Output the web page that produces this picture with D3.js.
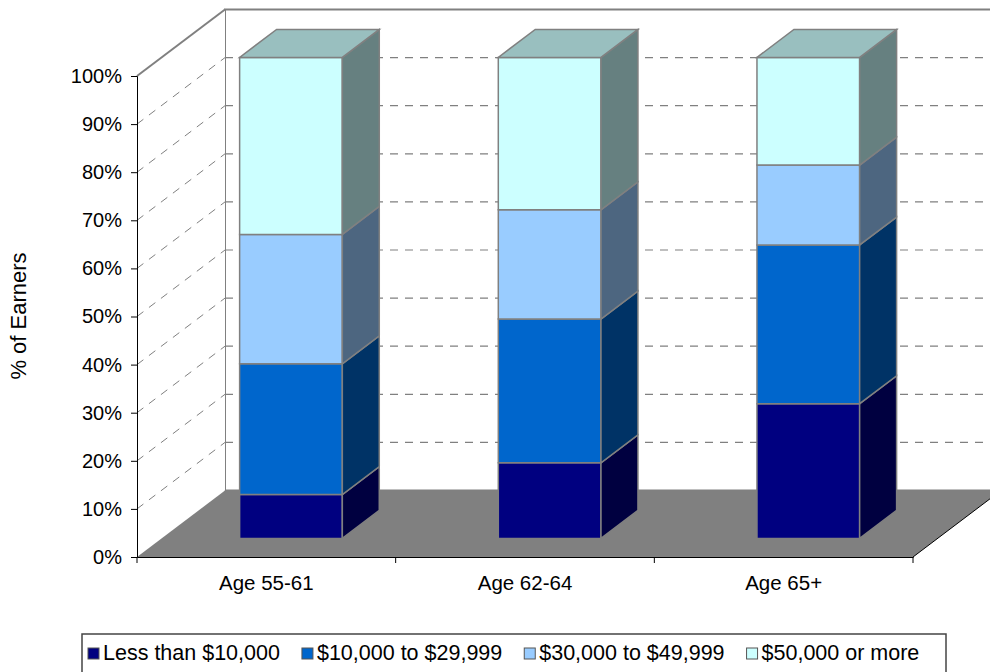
<html>
<head>
<script src="https://cdn.jsdelivr.net/npm/d3@7/dist/d3.min.js" charset="utf-8"></script>
<style>
body {
	margin:0;
	background:#ffffff;
	font-family:"Liberation Sans", Arial, sans-serif;
}
svg text {
	fill:#000000;
	font-family:"Liberation Sans", Arial, sans-serif;
}
</style>
</head>
<body>
<svg width="990" height="672" id="viz"></svg>
<script>
// categories + series (percent of earners)
var categories = ["Age 55-61", "Age 62-64", "Age 65+"];
var seriesNames = ["Less than $10,000", "$10,000 to $29,999", "$30,000 to $49,999", "$50,000 or more"];
var under10k = [9.1, 15.7, 28.0];
var from10to30k = [27.2, 29.9, 33.0];
var from30to50k = [26.9, 22.7, 16.6];
var over50k = [36.8, 31.7, 22.4];
var yTicks = [0, 10, 20, 30, 40, 50, 60, 70, 80, 90, 100];

var frontColors = ["#000080", "#0066cc", "#99ccff", "#ccffff"];
var sideColors = ["#000040", "#003366", "#4d6680", "#668080"];
var topColors = ["#000060", "#004d99", "#7399bf", "#99bfbf"];

var seriesValues = [under10k, from10to30k, from30to50k, over50k];
var table = categories.map(function (c, i) {
	var row = {cat: c};
	seriesNames.forEach(function (s, j) { row[s] = seriesValues[j][i]; });
	return row;
});
var stacked = d3.stack().keys(seriesNames)(table);

var svg = d3.select("#viz");

// front plane scales, depth offset for the 3d look
var xScale = d3.scaleBand().domain(categories).range([137, 913]);
var yScale = d3.scaleLinear().domain([0, 100]).range([557, 76]);
var DX = 88, DY = -66.5;
var d0 = 0.28, d1 = 0.70;
var barW = xScale.bandwidth() * 0.397;

function pt(x, v, d) { return [x + d * DX, yScale(v) + d * DY]; }
function poly(pts) { return pts.map(function (p) { return p[0] + "," + p[1]; }).join(" "); }

var xL = xScale.range()[0], xR = xScale.range()[1];

// back wall
svg.append("polygon")
	.attr("points", poly([pt(xL, 0, 1), pt(xL, 100, 1), pt(xR, 100, 1), pt(xR, 0, 1)]))
	.attr("fill", "#ffffff").attr("stroke", "#808080").attr("stroke-width", 2);
// left wall
svg.append("polygon")
	.attr("points", poly([pt(xL, 0, 0), pt(xL, 100, 0), pt(xL, 100, 1), pt(xL, 0, 1)]))
	.attr("fill", "#ffffff").attr("stroke", "none");
svg.append("line")
	.attr("x1", pt(xL, 100, 0)[0]).attr("y1", pt(xL, 100, 0)[1])
	.attr("x2", pt(xL, 100, 1)[0]).attr("y2", pt(xL, 100, 1)[1])
	.attr("stroke", "#808080").attr("stroke-width", 2);

// gridlines on back wall + left wall
var gridVals = yTicks.filter(function (v) { return v > 0 && v < 100; });
svg.selectAll(".gridBack").data(gridVals).enter().append("line")
	.attr("class", "gridBack")
	.attr("x1", function (v) { return pt(xL, v, 1)[0]; })
	.attr("y1", function (v) { return pt(xL, v, 1)[1]; })
	.attr("x2", function (v) { return pt(xR, v, 1)[0]; })
	.attr("y2", function (v) { return pt(xR, v, 1)[1]; })
	.attr("stroke", "#808080").attr("stroke-width", 1.2).attr("stroke-dasharray", "8,7");
svg.selectAll(".gridSide").data(gridVals).enter().append("line")
	.attr("class", "gridSide")
	.attr("x1", function (v) { return pt(xL, v, 0)[0]; })
	.attr("y1", function (v) { return pt(xL, v, 0)[1]; })
	.attr("x2", function (v) { return pt(xL, v, 1)[0]; })
	.attr("y2", function (v) { return pt(xL, v, 1)[1]; })
	.attr("stroke", "#808080").attr("stroke-width", 1).attr("stroke-dasharray", "8,7");

// floor
svg.append("polygon")
	.attr("points", poly([pt(xL, 0, 0), pt(xR, 0, 0), pt(xR, 0, 1), pt(xL, 0, 1)]))
	.attr("fill", "#808080");
svg.append("line")
	.attr("x1", pt(xR, 0, 0)[0]).attr("y1", pt(xR, 0, 0)[1])
	.attr("x2", pt(xR, 0, 1)[0]).attr("y2", pt(xR, 0, 1)[1])
	.attr("stroke", "#000000").attr("stroke-width", 1);

// bars
stacked.forEach(function (layer, si) {
	layer.forEach(function (seg, ci) {
		var cx = xScale(categories[ci]) + xScale.bandwidth() / 2;
		var a = cx - barW / 2, b = cx + barW / 2;
		var lo = seg[0], hi = seg[1];
		var g = svg.append("g").attr("class", "seg");
		g.append("polygon")
			.attr("points", poly([pt(a, lo, d0), pt(a, hi, d0), pt(b, hi, d0), pt(b, lo, d0)]))
			.attr("fill", frontColors[si]).attr("stroke", "#808080").attr("stroke-width", 1.5);
		g.append("polygon")
			.attr("points", poly([pt(b, lo, d0), pt(b, hi, d0), pt(b, hi, d1), pt(b, lo, d1)]))
			.attr("fill", sideColors[si]).attr("stroke", "#808080").attr("stroke-width", 1.5);
		if (si == stacked.length - 1) {
			g.append("polygon")
				.attr("points", poly([pt(a, hi, d0), pt(b, hi, d0), pt(b, hi, d1), pt(a, hi, d1)]))
				.attr("fill", topColors[si]).attr("stroke", "#808080").attr("stroke-width", 1.5);
		}
	});
});

// axes on the front plane
var yAxis = d3.axisLeft(yScale).tickValues(yTicks).tickSize(6).tickPadding(9)
	.tickFormat(function (d) { return d + "%"; });
var yg = svg.append("g").attr("transform", "translate(" + xL + ",0)").call(yAxis);
yg.selectAll("text").style("font-size", "20px");
yg.select(".domain").attr("stroke", "#000000");

var xAxis = d3.axisBottom(xScale).tickSize(0).tickPadding(15);
var xg = svg.append("g").attr("transform", "translate(0," + yScale(0) + ")").call(xAxis);
xg.selectAll("text").style("font-size", "20.5px").attr("dy", "0.9em");
xg.select(".domain").attr("stroke", "#000000");
var bounds = d3.range(categories.length + 1).map(function (i) { return xL + i * xScale.step(); });
xg.selectAll(".bound").data(bounds).enter().append("line")
	.attr("class", "bound")
	.attr("x1", function (d) { return d; }).attr("x2", function (d) { return d; })
	.attr("y1", 0).attr("y2", 6).attr("stroke", "#000000");

svg.append("text").text("% of Earners")
	.attr("transform", "translate(26,316)rotate(-90)")
	.attr("text-anchor", "middle").style("font-size", "22px");

// legend: items laid out one after another by measured text width
svg.append("rect").attr("x", 82).attr("y", 634).attr("width", 864).attr("height", 60)
	.attr("fill", "#ffffff").attr("stroke", "#444444").attr("stroke-width", 1.5);
var leg = svg.selectAll(".legItem").data(seriesNames).enter().append("g")
	.attr("class", "legItem");
leg.append("rect").attr("width", 11).attr("height", 11).attr("y", 1)
	.attr("fill", function (d, i) { return frontColors[i]; })
	.attr("stroke", "#555555").attr("stroke-width", 1);
leg.append("text").text(function (d) { return d; })
	.attr("x", 15).attr("y", 13).style("font-size", "21.5px");
var cursor = 88;
leg.each(function () {
	d3.select(this).attr("transform", "translate(" + cursor + ",647)");
	cursor += 15 + d3.select(this).select("text").node().getComputedTextLength() + 22;
});
</script>
</body>
</html>
